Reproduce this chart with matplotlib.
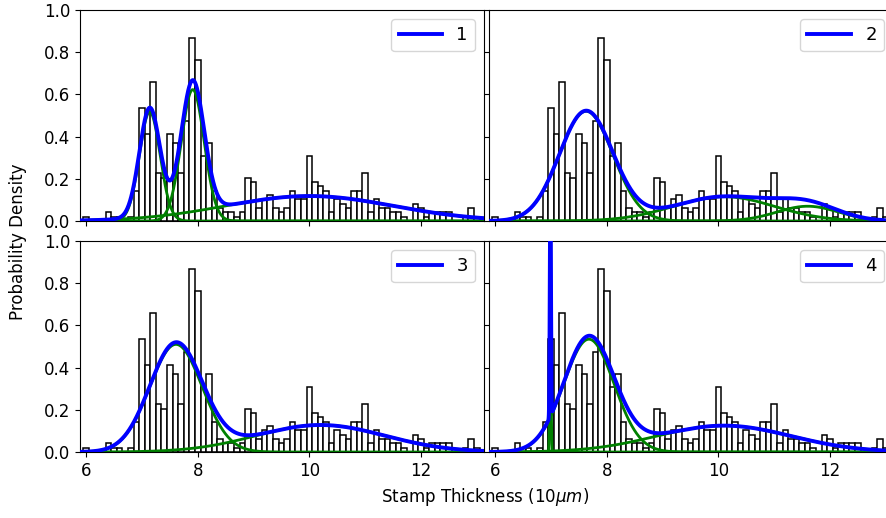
import numpy as np
import matplotlib.pyplot as plt

# stamp thickness histogram (units of 10 micron), bins of width 0.1
bin_centers = np.round(np.arange(6.0, 13.15, 0.1), 1)
densities = [0.021, 0, 0, 0, 0.041, 0.021, 0.021, 0, 0.021, 0.144,
             0.536, 0.412, 0.660, 0.227, 0.206, 0.412, 0.371, 0.227, 0.474, 0.866,
             0.763, 0.309, 0.371, 0.144, 0.062, 0.041, 0.041, 0.021, 0.041, 0.206,
             0.186, 0.062, 0.103, 0.124, 0.062, 0.041, 0.062, 0.144, 0.103, 0.103,
             0.309, 0.186, 0.165, 0.144, 0.041, 0.103, 0.082, 0.062, 0.144, 0.144,
             0.227, 0.041, 0.103, 0.062, 0.062, 0.041, 0.041, 0.021, 0, 0.082,
             0.062, 0.021, 0.041, 0.041, 0.041, 0.041, 0, 0, 0.021, 0.062,
             0.021, 0]

# mixture components per panel: (weight, mean, sigma)
labels = ["1", "2", "3", "4"]
components = [
    [(0.240, 7.14, 0.185), (0.320, 7.91, 0.205), (0.445, 10.0, 1.5)],
    [(0.626, 7.63, 0.48), (0.260, 10.1, 0.90), (0.0965, 11.6, 0.55)],
    [(0.601, 7.61, 0.47), (0.369, 10.2, 1.15)],
    [(0.603, 7.68, 0.45), (0.376, 10.1, 1.20), (0.03, 6.99, 0.01)],
]

xmin, xmax = 5.89, 13.13

def gauss(x, w, mu, s):
    return w * np.exp(-0.5 * ((x - mu) / s) ** 2) / (s * np.sqrt(2 * np.pi))

plt.rcParams['font.size'] = 12

W, H = 886, 518
fig = plt.figure(figsize=(W / 100, H / 100), dpi=100)

# axes rectangles in pixels: left, top, width, height
rects = [(80, 10), (489, 10), (80, 241), (489, 241)]
aw, ah = 404, 211

x = np.linspace(xmin, xmax, 4000)

for i, (px, py) in enumerate(rects):
    ax = fig.add_axes([px / W, 1 - (py + ah) / H, aw / W, ah / H])
    ax.bar(bin_centers, densities, width=0.1, facecolor='white',
           edgecolor='black', linewidth=1.1, zorder=1)
    total = np.zeros_like(x)
    for w, mu, s in components[i]:
        comp = gauss(x, w, mu, s)
        total += comp
        ax.plot(x, comp, color='green', lw=2.0, zorder=2)
    ax.plot(x, total, color='blue', lw=2.8, label=labels[i], zorder=3)
    ax.legend(loc='upper right', fontsize=13, handlelength=2.4)
    ax.set_xlim(xmin, xmax)
    ax.set_ylim(0, 1)
    ax.set_xticks([6, 8, 10, 12])
    ax.set_yticks([0, 0.2, 0.4, 0.6, 0.8, 1.0])
    if i < 2:
        ax.set_xticklabels([])
    if i % 2 == 1:
        ax.set_yticklabels([])

fig.text(18 / W, 1 - 242 / H, "Probability Density", rotation=90,
         ha='center', va='center', fontsize=12)
fig.text(485 / W, 1 - 497 / H, r"Stamp Thickness (10$\mu m$)",
         ha='center', va='center', fontsize=12)

fig.savefig("out.png", dpi=100)
